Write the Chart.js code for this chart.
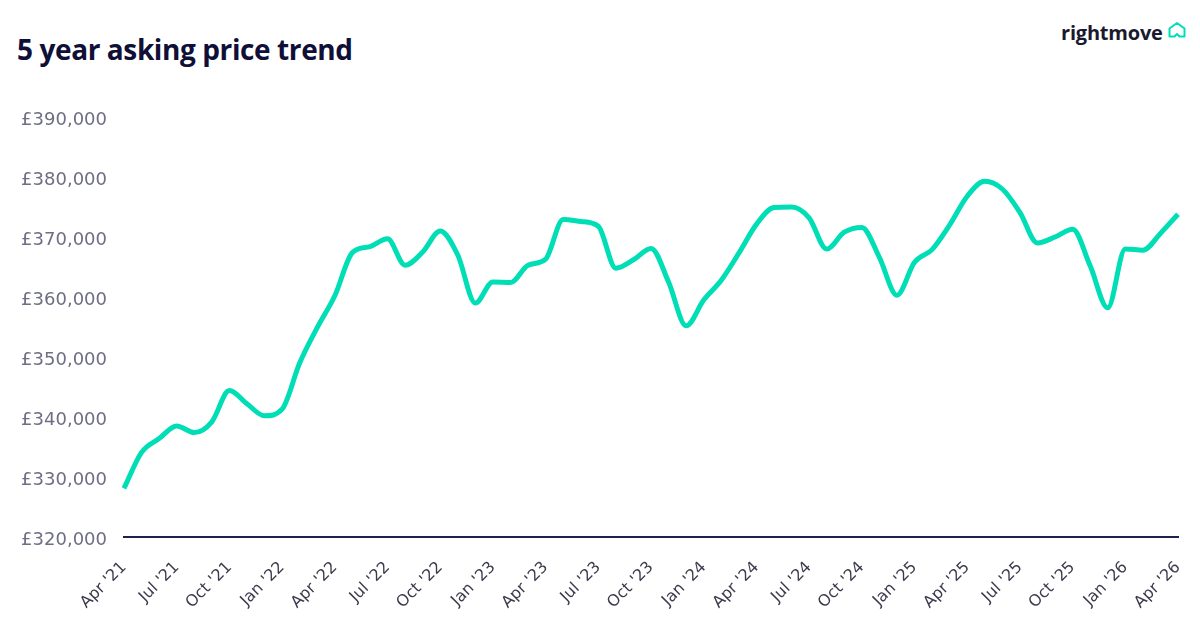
<!DOCTYPE html>
<html>
<head>
<meta charset="utf-8">
<script src="https://cdn.jsdelivr.net/npm/chart.js@4.4.1/dist/chart.umd.min.js"></script>
<style>
  html, body { margin: 0; padding: 0; background: #ffffff; }
  body { width: 1200px; height: 642px; position: relative; overflow: hidden; }
  #title { position: absolute; left: 17px; top: 30px; margin: 0; font-family: "Open Sans", sans-serif; font-weight: 700; font-size: 28px; letter-spacing: -0.4px; color: #0f0f38; }
  #logo { position: absolute; left: 1061px; top: 19px; font-family: "Open Sans", sans-serif; font-weight: 700; font-size: 20px; letter-spacing: -0.2px; color: #1a1a2e; }
  #house { position: absolute; left: 1167px; top: 21px; }
  #wrap { position: absolute; left: 0; top: 0; width: 1200px; height: 642px; }
</style>
</head>
<body>
<h1 id="title">5 year asking price trend</h1>
<div id="logo">rightmove</div>
<svg id="house" width="20" height="18" viewBox="0 0 20 18">
  <path d="M2.5 15.5 L2.5 7.5 L10 2 L17.5 7.5 L17.5 15.5 L12.5 15.5 L10 13 L7.5 15.5 Z" fill="none" stroke="#00deb6" stroke-width="2" stroke-linejoin="round"/>
</svg>
<div id="wrap"><canvas id="c"></canvas></div>
<script>
const months = [
  "Apr '21","May '21","Jun '21","Jul '21","Aug '21","Sep '21","Oct '21","Nov '21","Dec '21",
  "Jan '22","Feb '22","Mar '22","Apr '22","May '22","Jun '22","Jul '22","Aug '22","Sep '22","Oct '22","Nov '22","Dec '22",
  "Jan '23","Feb '23","Mar '23","Apr '23","May '23","Jun '23","Jul '23","Aug '23","Sep '23","Oct '23","Nov '23","Dec '23",
  "Jan '24","Feb '24","Mar '24","Apr '24","May '24","Jun '24","Jul '24","Aug '24","Sep '24","Oct '24","Nov '24","Dec '24",
  "Jan '25","Feb '25","Mar '25","Apr '25","May '25","Jun '25","Jul '25","Aug '25","Sep '25","Oct '25","Nov '25","Dec '25",
  "Jan '26","Feb '26","Mar '26","Apr '26"
];
const askingPrice = [
  328100, 334100, 336400, 338500, 337400, 339200, 344400, 342200, 340200,
  341300, 349000, 354900, 360200, 367400, 368400, 369700, 365300, 367500, 371000, 367000, 359000,
  362500, 362400, 365300, 366300, 372900, 372600, 371800, 364800, 366200, 368100, 362500, 355200,
  359500, 362800, 367300, 372100, 374900, 375000, 373200, 368000, 370800, 371600, 366600, 360300,
  365800, 367900, 372000, 376800, 379300, 378000, 374100, 369000, 370000, 371300, 365200, 358200,
  368000, 367800, 370600, 373800
];
const yMin = 320000, yMax = 390000, yStep = 10000;
const tickEvery = 3;

new Chart(document.getElementById('c'), {
  type: 'line',
  data: {
    labels: months,
    datasets: [{
      data: askingPrice,
      borderColor: '#00deb6',
      borderWidth: 5,
      pointRadius: 0,
      pointHoverRadius: 0,
      fill: false,
      cubicInterpolationMode: 'monotone',
      borderCapStyle: 'butt',
      borderJoinStyle: 'round'
    }]
  },
  options: {
    responsive: true,
    maintainAspectRatio: false,
    animation: false,
    layout: { padding: { top: 117, right: 22, bottom: 0, left: 0 } },
    plugins: { legend: { display: false }, tooltip: { enabled: false } },
    scales: {
      x: {
        offset: false,
        grid: { display: false, drawTicks: false },
        border: { display: true, color: '#1c2150', width: 2 },
        afterFit: (s) => { s.height = 105; s.paddingLeft = 0; s.paddingRight = 0; },
        ticks: {
          autoSkip: false,
          maxRotation: 45,
          minRotation: 45,
          padding: 21,
          color: '#3b3b4d',
          font: { family: 'DejaVu Sans', size: 16 },
          callback: function(v, i) { return i % tickEvery === 0 ? months[i] : null; }
        }
      },
      y: {
        min: yMin,
        max: yMax,
        grid: { display: false, drawTicks: false },
        border: { display: false },
        afterFit: (s) => { s.width = 124; },
        ticks: {
          stepSize: yStep,
          padding: 17,
          labelOffset: 3,
          color: '#6e6e84',
          font: { family: 'DejaVu Sans', size: 18 },
          callback: (v) => '£' + v.toLocaleString('en-GB')
        }
      }
    }
  }
});
</script>
</body>
</html>
